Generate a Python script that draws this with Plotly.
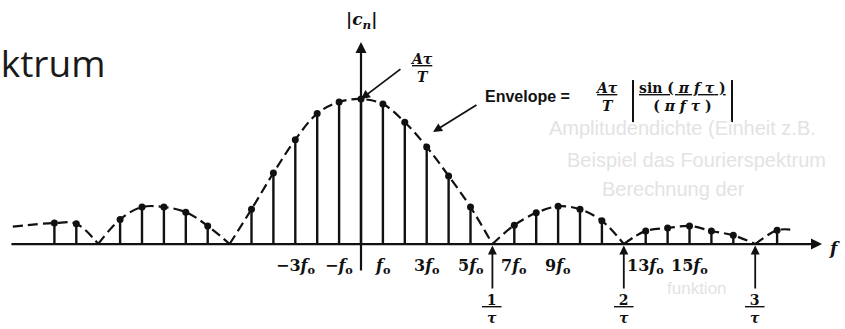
import plotly.graph_objects as go

# Line spectrum of a periodic rectangular pulse train (T / tau = 6)
harmonics = list(range(-14, 20))          # n, line frequency = n * f0
magnitudes = [0.145, 0.14, 0.0, 0.17, 0.255, 0.255, 0.22, 0.125, 0.0, 0.24,
              0.49, 0.72, 0.90, 0.98, 1.0, 0.965, 0.84, 0.67, 0.47, 0.255,
              0.0, 0.13, 0.215, 0.26, 0.24, 0.16, 0.0, 0.09, 0.11, 0.125,
              0.09, 0.06, 0.0, 0.095]     # |c_n| relative to A*tau/T

# where the dashed envelope runs out at both ends of the axis
envelope_start = (-15.9, 0.12)
envelope_end = (19.6, 0.10)

tick_harmonics = [-3, -1, 1, 3, 5, 7, 9, 13, 15]
tick_prefix = ["\u22123", "\u2212", "", "3", "5", "7", "9", "13", "15"]

period_ratio = 6                 # T / tau -> zeros at multiples of 1/tau
null_orders = [1, 2, 3]

BLACK = "#111111"
MATH_FONT = "DejaVu Serif"

fig = go.Figure()

# stems
sx, sy = [], []
for n, m in zip(harmonics, magnitudes):
    if m > 0:
        sx += [n, n, None]
        sy += [0, m, None]
fig.add_trace(go.Scatter(x=sx, y=sy, mode="lines",
                         line=dict(color=BLACK, width=2.4), hoverinfo="skip"))

# dots on the stem tops
tops = [(n, m) for n, m in zip(harmonics, magnitudes) if m > 0]
fig.add_trace(go.Scatter(x=[t[0] for t in tops], y=[t[1] for t in tops],
                         mode="markers",
                         marker=dict(color=BLACK, size=7), hoverinfo="skip"))

# envelope, one dashed arc per lobe so the zeros stay sharp
pts = [envelope_start] + list(zip(harmonics, magnitudes)) + [envelope_end]
lobes, cur = [], []
for p in pts:
    cur.append(p)
    if p[1] == 0 and len(cur) > 1:
        lobes.append(cur)
        cur = [p]
if len(cur) > 1:
    lobes.append(cur)
for lobe in lobes:
    fig.add_trace(go.Scatter(x=[p[0] for p in lobe], y=[p[1] for p in lobe],
                             mode="lines", line_shape="spline",
                             line=dict(color=BLACK, width=2.2, dash="10px,5px"),
                             hoverinfo="skip"))

ann = []

# faint text from the page underneath
ghost = dict(family="Liberation Sans", size=20, color="#e3e3e3")
for txt, x, y, size in [("Amplitudendichte (Einheit z.B.", 8.5, 0.80, 20),
                        ("Beispiel das Fourierspektrum", 9.3, 0.58, 20),
                        ("Berechnung der", 10.9, 0.38, 20),
                        ("funktion", 13.9, -0.31, 17)]:
    ann.append(dict(x=x, y=y, text=txt, showarrow=False, xanchor="left",
                    font=dict(ghost, size=size)))

# title fragment at the upper left
ann.append(dict(x=-11.6, y=1.25, text="Spektrum", showarrow=False,
                xanchor="right", font=dict(family="Open Sans", size=37,
                                           color="#1a1a1a")))

# axes with arrowheads
ann.append(dict(x=21.05, y=0, ax=-16.03, ay=0, axref="x", ayref="y",
                text="", showarrow=True, arrowhead=2, arrowsize=1,
                arrowwidth=2.2, arrowcolor=BLACK))
ann.append(dict(x=0, y=1.393, ax=0, ay=-0.193, axref="x", ayref="y",
                text="", showarrow=True, arrowhead=2, arrowsize=1,
                arrowwidth=2.2, arrowcolor=BLACK))
ann.append(dict(x=21.6, y=-0.03, text="<b><i>f</i></b>", showarrow=False,
                font=dict(family=MATH_FONT, size=17, color=BLACK)))
ann.append(dict(x=0, y=1.545, text="<b>|<i>c</i><sub><i>n</i></sub>|</b>",
                showarrow=False,
                font=dict(family=MATH_FONT, size=17, color=BLACK)))

# peak value A*tau/T
ann.append(dict(x=2.75, y=1.214, text="<b><u><i>A\u03c4</i></u><br><i>T</i></b>",
                showarrow=False,
                font=dict(family=MATH_FONT, size=14, color=BLACK)))
ann.append(dict(x=0, y=1.0, ax=1.87, ay=1.214, axref="x", ayref="y",
                text="", showarrow=True, arrowhead=2, arrowsize=1,
                arrowwidth=1.8, arrowcolor=BLACK))

# envelope formula
ann.append(dict(x=3.29, y=0.772, ax=5.34, ay=0.966, axref="x", ayref="y",
                text="", showarrow=True, arrowhead=2, arrowsize=1,
                arrowwidth=1.8, arrowcolor=BLACK))
ann.append(dict(x=5.55, y=1.02, text="<b>Envelope =</b>", showarrow=False,
                xanchor="left",
                font=dict(family="Liberation Sans", size=16, color=BLACK)))
ann.append(dict(x=11.2, y=1.014, text="<b><u><i>A\u03c4</i></u><br><i>T</i></b>",
                showarrow=False,
                font=dict(family=MATH_FONT, size=14, color=BLACK)))
ann.append(dict(x=14.7, y=1.014,
                text="<b><u>sin ( <i>\u03c0 f \u03c4</i> )</u><br>( <i>\u03c0 f \u03c4</i> )</b>",
                showarrow=False,
                font=dict(family=MATH_FONT, size=14, color=BLACK)))

# frequency labels under the axis
for n, pre in zip(tick_harmonics, tick_prefix):
    ann.append(dict(x=n, y=-0.155, text="<b>" + pre + "<i>f</i><sub>o</sub></b>",
                    showarrow=False,
                    font=dict(family=MATH_FONT, size=16, color=BLACK)))

# zeros of the envelope at k / tau
for k in null_orders:
    xn = k * period_ratio
    ann.append(dict(x=xn, y=-0.01, ax=xn, ay=-0.317, axref="x", ayref="y",
                    text="", showarrow=True, arrowhead=2, arrowsize=1,
                    arrowwidth=1.8, arrowcolor=BLACK))
    ann.append(dict(x=xn, y=-0.445,
                    text="<b><u>\u00a0%d\u00a0</u><br><i>\u03c4</i></b>" % k,
                    showarrow=False,
                    font=dict(family=MATH_FONT, size=14, color=BLACK)))

# absolute-value bars around the sin fraction
shapes = []
for xb in (12.42, 16.94):
    shapes.append(dict(type="line", xref="x", yref="y", x0=xb, x1=xb,
                       y0=0.841, y1=1.131,
                       line=dict(color=BLACK, width=2)))

fig.update_layout(
    width=845, height=329,
    margin=dict(l=0, r=0, t=0, b=0),
    paper_bgcolor="white", plot_bgcolor="white",
    showlegend=False,
    xaxis=dict(visible=False, range=[-16.484, 22.10]),
    yaxis=dict(visible=False, range=[-0.586, 1.683]),
    annotations=ann, shapes=shapes,
)

fig.write_html("out.html")
